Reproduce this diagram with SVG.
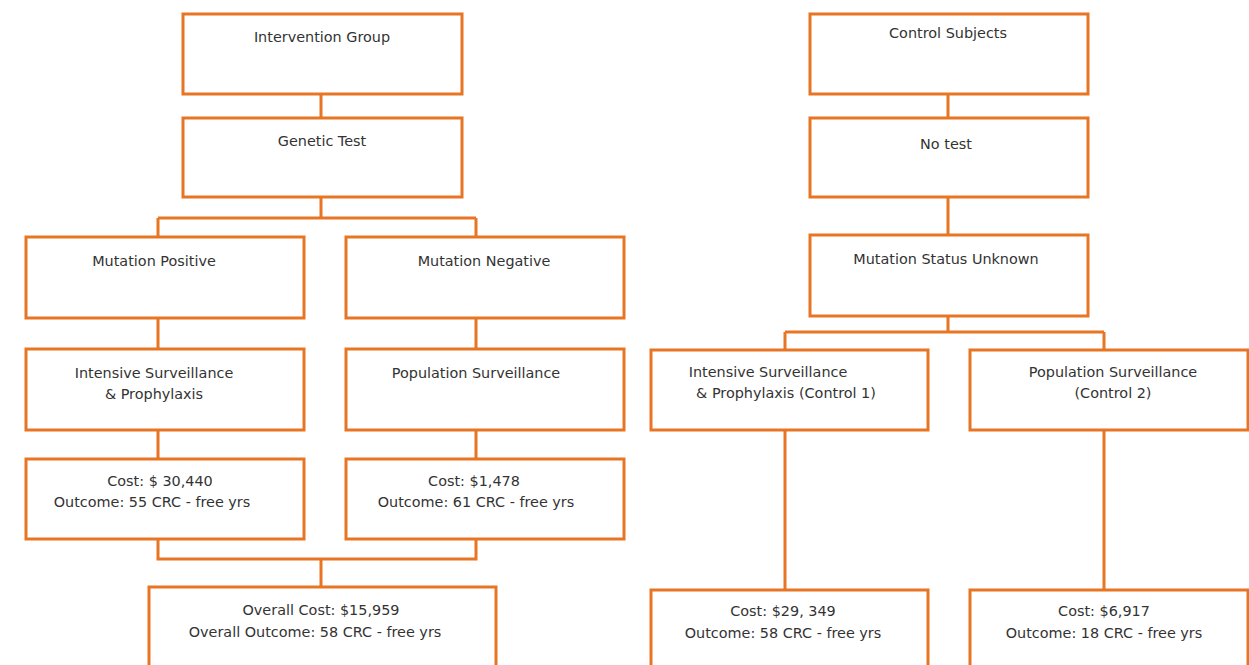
<svg xmlns="http://www.w3.org/2000/svg" width="1249" height="665" viewBox="0 0 1249 665">
<style>
.box{fill:#fff;stroke:#E87524;stroke-width:3}
.ln{fill:none;stroke:#E87524;stroke-width:3}
text{font-family:"DejaVu Sans",sans-serif;font-size:14.4px;fill:#333;text-anchor:middle}
</style>
<rect width="1249" height="665" fill="#fff"/>
<g id="connectors">
<path class="ln" d="M321 94V118M321 197V218M158 218H476M158 218V237M476 218V237M158 318V349M476 318V349M158 430V459M476 430V459M158 539V559H476V539M321 559V587"/>
<path class="ln" d="M948 94V118M948 197V235M948 316V332M785 332H1104M785 332V350M1104 332V350M785 430V590M1104 430V590"/>
</g>
<g id="n1"><rect class="box" x="183" y="14" width="279" height="80"/><text x="322" y="42">Intervention Group</text></g>
<g id="n2"><rect class="box" x="183" y="118" width="279" height="79"/><text x="322" y="146">Genetic Test</text></g>
<g id="n3"><rect class="box" x="26" y="237" width="278" height="81"/><text x="154" y="266">Mutation Positive</text></g>
<g id="n4"><rect class="box" x="346" y="237" width="278" height="81"/><text x="484" y="266">Mutation Negative</text></g>
<g id="n5"><rect class="box" x="26" y="349" width="278" height="81"/><text x="154" y="378">Intensive Surveillance</text><text x="154" y="399">&amp; Prophylaxis</text></g>
<g id="n6"><rect class="box" x="346" y="349" width="278" height="81"/><text x="476" y="378">Population Surveillance</text></g>
<g id="n7"><rect class="box" x="26" y="459" width="278" height="80"/><text x="160" y="486">Cost: $ 30,440</text><text x="152" y="507">Outcome: 55 CRC - free yrs</text></g>
<g id="n8"><rect class="box" x="346" y="459" width="278" height="80"/><text x="474" y="486">Cost: $1,478</text><text x="476" y="507">Outcome: 61 CRC - free yrs</text></g>
<g id="n9"><rect class="box" x="149" y="587" width="347" height="83"/><text x="321" y="615">Overall Cost: $15,959</text><text x="315" y="637">Overall Outcome: 58 CRC - free yrs</text></g>
<g id="m1"><rect class="box" x="810" y="14" width="278" height="80"/><text x="948" y="38">Control Subjects</text></g>
<g id="m2"><rect class="box" x="810" y="118" width="278" height="79"/><text x="946" y="149">No test</text></g>
<g id="m3"><rect class="box" x="810" y="235" width="278" height="81"/><text x="946" y="264">Mutation Status Unknown</text></g>
<g id="m4"><rect class="box" x="651" y="350" width="277" height="80"/><text x="768" y="377">Intensive Surveillance</text><text x="786" y="398">&amp; Prophylaxis (Control 1)</text></g>
<g id="m5"><rect class="box" x="970" y="350" width="278" height="80"/><text x="1113" y="377">Population Surveillance</text><text x="1113" y="398">(Control 2)</text></g>
<g id="m6"><rect class="box" x="651" y="590" width="277" height="80"/><text x="783" y="616">Cost: $29, 349</text><text x="783" y="638">Outcome: 58 CRC - free yrs</text></g>
<g id="m7"><rect class="box" x="970" y="590" width="278" height="80"/><text x="1104" y="616">Cost: $6,917</text><text x="1104" y="638">Outcome: 18 CRC - free yrs</text></g>
</svg>
